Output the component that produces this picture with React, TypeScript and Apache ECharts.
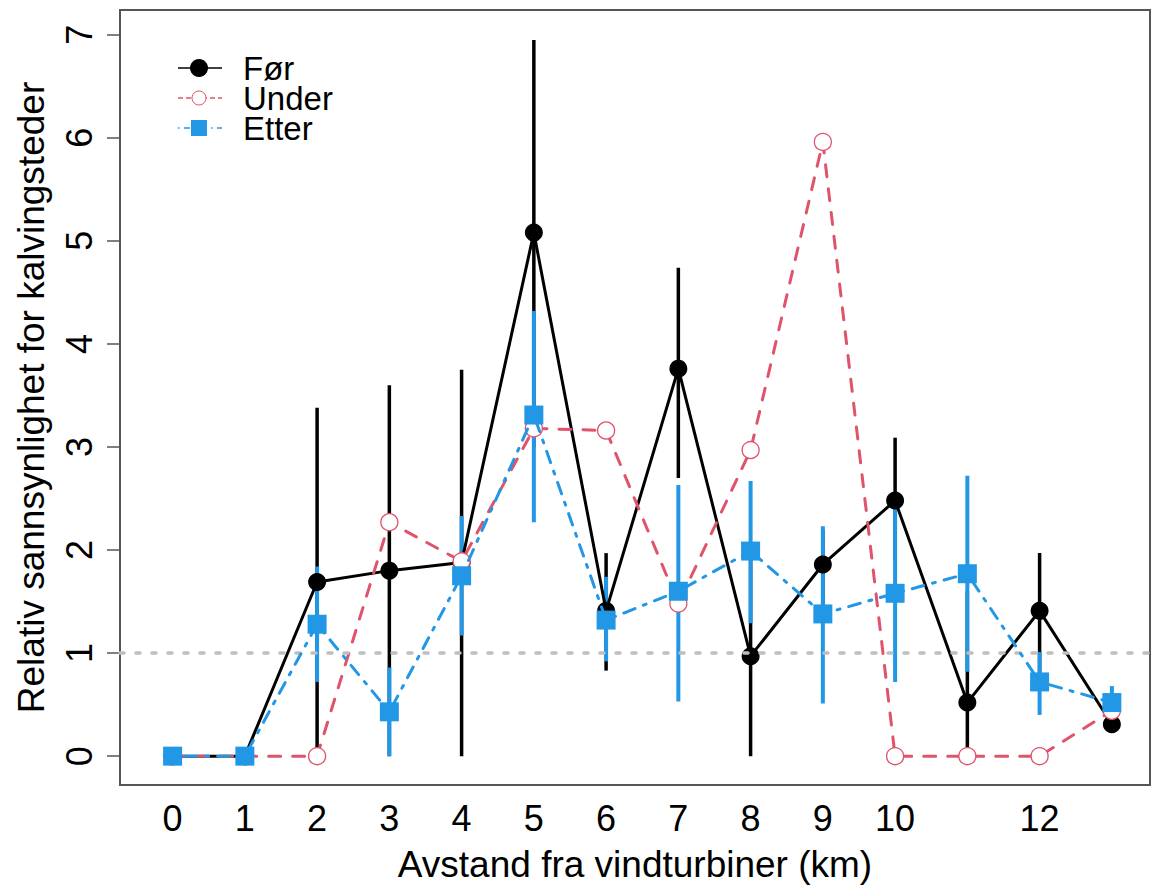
import React, { useEffect, useRef } from "react";
import * as echarts from "echarts";

const distances = [0, 1, 2, 3, 4, 5, 6, 7, 8, 9, 10, 11, 12, 13];
const xTickLabels = [0, 1, 2, 3, 4, 5, 6, 7, 8, 9, 10, 12];
const yTickLabels = [0, 1, 2, 3, 4, 5, 6, 7];

const before = [0, 0, 1.69, 1.8, 1.88, 5.08, 1.41, 3.76, 0.97, 1.86, 2.48, 0.52, 1.41, 0.31];
const beforeLo = [0, 0, 0, 0, 0, 3.0, 0.83, 2.7, 0, 1.3, 1.9, 0, 0.7, 0.25];
const beforeHi = [0, 0, 3.38, 3.6, 3.75, 6.95, 1.97, 4.74, 2.0, 2.2, 3.09, 1.6, 1.97, 0.5];

const during = [0, 0, 0, 2.27, 1.89, 3.18, 3.16, 1.48, 2.97, 5.96, 0, 0, 0, 0.44];

const after = [0, 0, 1.28, 0.43, 1.75, 3.31, 1.32, 1.6, 1.99, 1.38, 1.58, 1.77, 0.72, 0.52];
const afterLo = [0, 0, 0.72, 0, 1.17, 2.27, 0.92, 0.53, 1.29, 0.51, 0.72, 0.82, 0.4, 0.4];
const afterHi = [0, 0, 1.84, 0.86, 2.33, 4.32, 1.74, 2.63, 2.67, 2.23, 2.45, 2.72, 1.01, 0.68];

const FONT = "'Liberation Sans', Arial, sans-serif";
const BLACK = "#000000";
const PINK = "#DF536B";
const BLUE = "#2297E6";

function errorBars(name: string, lo: number[], hi: number[], color: string, width: number, z: number) {
  return {
    type: "custom",
    name,
    z,
    silent: true,
    data: distances.map((d, i) => [d, lo[i], hi[i]]),
    encode: { x: 0, y: [1, 2] },
    renderItem: (params: any, api: any) => {
      const a = api.coord([api.value(0), api.value(1)]);
      const b = api.coord([api.value(0), api.value(2)]);
      return {
        type: "line",
        shape: { x1: a[0], y1: a[1], x2: b[0], y2: b[1] },
        style: { stroke: color, lineWidth: width, lineCap: "butt" },
      };
    },
  };
}

export default function App() {
  const ref = useRef<HTMLDivElement>(null);
  useEffect(() => {
    if (!ref.current) return;
    const chart = echarts.init(ref.current, undefined, { renderer: "svg" });
    const legendRows = [
      { label: "Før", y: 68 },
      { label: "Under", y: 98 },
      { label: "Etter", y: 128 },
    ];
    chart.setOption({
      animation: false,
      backgroundColor: "#ffffff",
      textStyle: { fontFamily: FONT },
      grid: {
        left: 120,
        top: 10,
        width: 1030,
        height: 775,
        show: true,
        borderColor: "#555555",
        borderWidth: 2,
        backgroundColor: "transparent",
      },
      xAxis: {
        type: "value",
        min: -0.728,
        max: 13.528,
        name: "Avstand fra vindturbiner (km)",
        nameLocation: "middle",
        nameGap: 61,
        nameTextStyle: { fontSize: 37, color: "#000", fontFamily: FONT },
        axisLine: { show: false, onZero: false },
        axisTick: { show: false },
        splitLine: { show: false },
        axisLabel: {
          customValues: xTickLabels,
          fontSize: 36,
          color: "#000",
          margin: 15,
          fontFamily: FONT,
        },
      },
      yAxis: {
        type: "value",
        min: -0.28,
        max: 7.24,
        name: "Relativ sannsynlighet for kalvingsteder",
        nameLocation: "middle",
        nameGap: 70,
        nameTextStyle: { fontSize: 37, color: "#000", fontFamily: FONT },
        axisLine: { show: false, onZero: false },
        splitLine: { show: false },
        axisTick: {
          show: true,
          customValues: yTickLabels,
          length: 13,
          lineStyle: { color: "#555555", width: 1.5 },
        },
        axisLabel: {
          customValues: yTickLabels,
          rotate: 90,
          fontSize: 36,
          color: "#000",
          margin: 23,
          fontFamily: FONT,
        },
      },
      series: [
        errorBars("Før CI", beforeLo, beforeHi, BLACK, 3.5, 1),
        errorBars("Etter CI", afterLo, afterHi, BLUE, 4, 2),
        {
          type: "line",
          name: "Før",
          z: 3,
          data: distances.map((d, i) => [d, before[i]]),
          symbol: "circle",
          symbolSize: 18,
          itemStyle: { color: BLACK },
          lineStyle: { color: BLACK, width: 3, join: "round" },
        },
        {
          type: "line",
          name: "Under",
          z: 4,
          data: distances.map((d, i) => [d, during[i]]),
          symbol: "circle",
          symbolSize: 17,
          showAllSymbol: true,
          itemStyle: { color: "#ffffff", borderColor: PINK, borderWidth: 1.3 },
          lineStyle: { color: PINK, width: 3, type: [12, 12], cap: "round" },
        },
        {
          type: "line",
          name: "Etter",
          z: 5,
          data: distances.map((d, i) => [d, after[i]]),
          symbol: "rect",
          symbolSize: 19,
          itemStyle: { color: BLUE },
          lineStyle: { color: BLUE, width: 3, type: [3, 9, 12, 9], cap: "round" },
          markLine: {
            silent: true,
            symbol: "none",
            label: { show: false },
            lineStyle: { color: "#bebebe", width: 3.5, type: [4, 12], cap: "round" },
            data: [{ yAxis: 1 }],
          },
        },
      ],
      graphic: [
        // legend
        { type: "line", shape: { x1: 178, y1: 68, x2: 222, y2: 68 }, style: { stroke: BLACK, lineWidth: 1.5 } },
        { type: "circle", shape: { cx: 199, cy: 68, r: 9 }, style: { fill: BLACK } },
        { type: "line", shape: { x1: 178, y1: 98, x2: 222, y2: 98 }, style: { stroke: PINK, lineWidth: 1.5, lineDash: [5, 3] } },
        { type: "circle", shape: { cx: 199, cy: 98, r: 7 }, style: { fill: "#ffffff", stroke: PINK, lineWidth: 1 } },
        { type: "line", shape: { x1: 178, y1: 128, x2: 222, y2: 128 }, style: { stroke: BLUE, lineWidth: 1.5, lineDash: [1.5, 4.5, 6, 4.5] } },
        { type: "rect", shape: { x: 191, y: 120, width: 16, height: 16 }, style: { fill: BLUE } },
        ...legendRows.map((r) => ({
          type: "text",
          x: 243,
          y: r.y,
          style: {
            text: r.label,
            fontSize: 33,
            lineHeight: 29,
            fontFamily: FONT,
            fill: "#000",
            verticalAlign: "middle",
            align: "left",
          },
        })),
      ],
    });
    return () => chart.dispose();
  }, []);
  return <div ref={ref} style={{ position: "fixed", left: 0, top: 0, width: 1159, height: 891 }} />;
}
